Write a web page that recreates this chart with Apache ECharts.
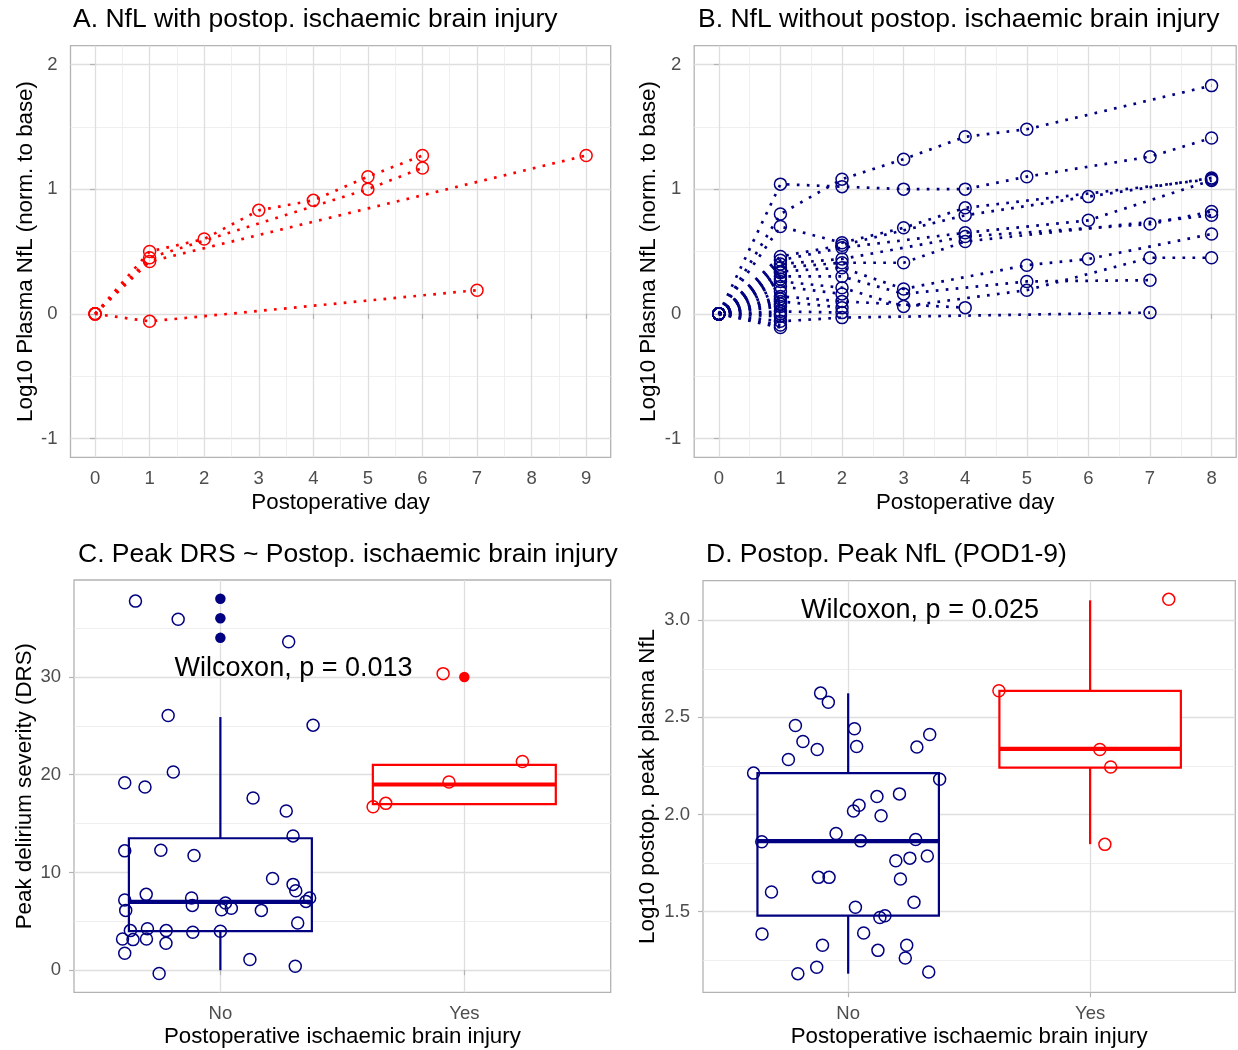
<!DOCTYPE html>
<html>
<head>
<meta charset="utf-8">
<script src="https://cdn.jsdelivr.net/npm/echarts@6/dist/echarts.min.js"></script>
<style>html,body{margin:0;padding:0;background:#fff;}#c{width:1238px;height:1050px;}</style>
</head>
<body>
<div id="c"></div>
<script>
// ---------- DATA ----------
const dayTicksA = [0,1,2,3,4,5,6,7,8,9];
const dayMinorA = [0.5,1.5,2.5,3.5,4.5,5.5,6.5,7.5,8.5];
const dayTicksB = [0,1,2,3,4,5,6,7,8];
const dayMinorB = [0.5,1.5,2.5,3.5,4.5,5.5,6.5,7.5];
const nflTicks = [-1,0,1,2];
const nflMinor = [-0.5,0.5,1.5];
const drsTicks = [0,10,20,30];
const drsMinor = [5,15,25,35];
const peakTicks = [1.5,2.0,2.5,3.0];
const peakMinor = [1.25,1.75,2.25,2.75];
const groupTicks = [1,2];
const groupLabels = ['No','Yes'];

// Panel A: trajectories with ischaemic brain injury [day, log10 NfL]
const trajA = [
  [[0,0],[1,0.50],[2,0.60],[3,0.83],[4,0.91],[5,1.10],[6,1.27]],
  [[0,0],[1,0.45],[5,1.00],[6,1.17]],
  [[0,0],[1,0.42],[9,1.27]],
  [[0,0],[1,-0.06],[7,0.19]]
];

// Panel B: trajectories without ischaemic brain injury
const trajB = [
  [[0,0],[1,1.04],[2,1.02],[3,1.00],[4,1.00],[5,1.10],[7,1.26],[8,1.41]],
  [[0,0],[1,0.80],[2,1.08],[3,1.24],[4,1.42],[5,1.48],[8,1.83]],
  [[0,0],[1,0.70],[2,0.57],[3,0.69],[4,0.85],[8,1.08]],
  [[0,0],[1,0.46],[2,0.55],[4,0.79],[6,0.94],[8,1.09]],
  [[0,0],[1,0.43],[2,0.53],[4,0.65],[6,0.75],[8,1.07]],
  [[0,0],[1,0.40],[2,0.44],[4,0.62],[7,0.72],[8,0.82]],
  [[0,0],[1,0.37],[2,0.41],[3,0.41],[4,0.58],[8,0.79]],
  [[0,0],[1,0.34],[2,0.37],[3,0.20],[5,0.39],[6,0.44],[8,0.64]],
  [[0,0],[1,0.30],[2,0.30],[3,0.16],[5,0.26],[7,0.27]],
  [[0,0],[1,0.26],[2,0.21],[3,0.06],[5,0.19],[7,0.45],[8,0.45]],
  [[0,0],[1,0.14],[2,0.10],[4,0.05]],
  [[0,0],[1,-0.06],[2,-0.03],[7,0.01]],
  [[0,0],[1,0.22],[2,0.16]],
  [[0,0],[1,0.10],[2,0.05]],
  [[0,0],[1,0.02],[2,0.01]],
  [[0,0],[1,0.18]],
  [[0,0],[1,0.06]],
  [[0,0],[1,-0.02]],
  [[0,0],[1,-0.09]],
  [[0,0],[1,-0.11]],
  [[0,0],[1,0.33]],
  [[0,0],[1,0.28]],
  [[0,0],[1,0.12]],
  [[0,0],[1,0.08]],
  [[0,0],[1,0.00]]
];

// Panel C: peak DRS, jittered points [x, DRS]
const drsNo = [
  [0.652,37.76],[0.827,35.9],[1.280,33.6],[0.786,26.05],[1.380,25.07],[0.807,20.27],
  [0.608,19.18],[0.691,18.74],[1.134,17.62],[1.270,16.29],[1.298,13.74],[0.608,12.21],
  [0.756,12.28],[0.892,11.73],[1.214,9.39],[1.298,8.78],[1.309,8.13],[0.696,7.76],
  [0.608,7.18],[0.882,7.38],[0.885,6.63],[1.366,7.38],[1.351,7.04],[1.021,6.87],
  [1.005,6.19],[1.045,6.33],[1.168,6.12],[0.612,6.12],[1.317,4.83],[0.631,4.05],
  [0.701,4.25],[0.778,4.05],[0.887,3.88],[1.000,3.98],[0.599,3.20],[0.642,3.13],
  [0.697,3.20],[0.777,2.76],[0.608,1.73],[1.121,1.09],[1.307,0.41],[0.749,-0.34]
];
const drsYes = [[1.913,30.34],[1.626,16.73],[1.678,17.07],[1.937,19.25],[2.238,21.36]];
const drsOutNo = [[1,38.0],[1,36.0],[1,34.0]];
const drsOutYes = [[2,30.0]];
// box stats [group, lower whisker, Q1, median, Q3, upper whisker]
const drsBoxNo = [1, 0, 4.0, 7.0, 13.5, 25.9];
const drsBoxYes = [2, 17.0, 17.0, 19.0, 21.0, 21.0];

// Panel D: log10 postop peak NfL, jittered points
const peakNo = [
  [0.886,2.625],[0.918,2.578],[0.782,2.458],[1.026,2.441],[0.813,2.376],[0.872,2.335],
  [0.753,2.283],[1.035,2.350],[1.284,2.347],[1.337,2.412],[0.609,2.213],[1.378,2.181],
  [1.119,2.092],[1.212,2.106],[1.045,2.047],[1.022,2.018],[1.136,1.993],[0.950,1.902],
  [0.643,1.859],[1.051,1.864],[1.279,1.871],[1.197,1.762],[1.255,1.775],[1.327,1.786],
  [0.877,1.676],[0.921,1.676],[1.216,1.668],[0.683,1.601],[1.272,1.548],[1.030,1.522],
  [1.131,1.469],[1.152,1.478],[0.644,1.384],[1.064,1.389],[0.894,1.326],[1.242,1.326],
  [1.123,1.300],[1.236,1.261],[0.870,1.213],[0.792,1.180],[1.333,1.189]
];
const peakYes = [[1.623,2.637],[2.040,2.335],[2.085,2.244],[2.061,1.846],[2.325,3.108]];
const peakBoxNo = [1, 1.180, 1.479, 1.863, 2.213, 2.624];
const peakBoxYes = [2, 1.847, 2.241, 2.338, 2.637, 3.103];

const titles = [
  'A. NfL with postop. ischaemic brain injury',
  'B. NfL without postop. ischaemic brain injury',
  'C. Peak DRS ~ Postop. ischaemic brain injury',
  'D. Postop. Peak NfL (POD1-9)'
];
const annotC = {pos:[1.30, 30.9], text:'Wilcoxon, p = 0.013'};
const annotD = {pos:[1.297, 3.048], text:'Wilcoxon, p = 0.025'};

// ---------- STYLE ----------
const FONT = 'Liberation Sans, Arial, Helvetica, sans-serif';
const RED = '#ff0000', NAVY = '#000080';
const MAJOR = '#dedede', MINOR = '#ebebeb', BORDER = '#b3b3b3';
const TICK_FS = 18.5, NAME_FS = 22.3, TITLE_FS = 26.5, ANNOT_FS = 27;

const grids = [
  {left:70.5, top:45.7, width:540.2, height:411.6},
  {left:694.2, top:45.7, width:542, height:411.6},
  {left:74, top:580, width:536.7, height:412.3},
  {left:703, top:580.7, width:532.3, height:411.6}
].map(g => Object.assign({show:true, borderColor:BORDER, borderWidth:1.3, backgroundColor:'#fff', containLabel:false}, g));

function mainAxis(dim, gi, min, max, ticks, fmt, name, gap) {
  return {
    type:'value', gridIndex:gi, min:min, max:max,
    position: dim==='x' ? 'bottom' : 'left',
    axisLine:{show:false},
    axisTick:{show:true, length:5, customValues:ticks, lineStyle:{color:BORDER, width:1.2}},
    axisLabel:{show:true, customValues:ticks, formatter:fmt, color:'#4d4d4d', fontSize:TICK_FS, fontFamily:FONT, margin: dim==='x'?12:13},
    splitLine:{show:true, lineStyle:{color:MAJOR, width:1.3}},
    name:name, nameLocation:'middle', nameGap:gap,
    nameTextStyle:{fontSize:NAME_FS, color:'#000', fontFamily:FONT},
    nameRotate: dim==='y' ? 90 : 0
  };
}
function minorAxis(dim, gi, min, max, ticks) {
  return {
    type:'value', gridIndex:gi, min:min, max:max,
    position: dim==='x' ? 'top' : 'right',
    axisLine:{show:false},
    axisTick:{show:false, customValues:ticks},
    axisLabel:{show:false, customValues:ticks},
    splitLine:{show:true, lineStyle:{color:MINOR, width:0.8}}
  };
}
const fmtNum = v => String(v);
const fmtGroup = v => groupLabels[groupTicks.indexOf(v)] || '';
const fmt1 = v => v.toFixed(1);

const xAxes = [
  mainAxis('x',0,-0.45,9.45,dayTicksA,fmtNum,'Postoperative day',35),
  mainAxis('x',1,-0.4,8.4,dayTicksB,fmtNum,'Postoperative day',35),
  mainAxis('x',2,0.4,2.6,groupTicks,fmtGroup,'Postoperative ischaemic brain injury',34),
  mainAxis('x',3,0.4,2.6,groupTicks,fmtGroup,'Postoperative ischaemic brain injury',34),
  minorAxis('x',0,-0.45,9.45,dayMinorA),
  minorAxis('x',1,-0.4,8.4,dayMinorB)
];
const yAxes = [
  mainAxis('y',0,-1.15,2.15,nflTicks,fmtNum,'Log10 Plasma NfL (norm. to base)',34),
  mainAxis('y',1,-1.15,2.15,nflTicks,fmtNum,'Log10 Plasma NfL (norm. to base)',34),
  mainAxis('y',2,-2.26,39.92,drsTicks,fmtNum,'Peak delirium severity (DRS)',38),
  mainAxis('y',3,1.084,3.204,peakTicks,fmt1,'Log10 postop. peak plasma NfL',44),
  minorAxis('y',0,-1.15,2.15,nflMinor),
  minorAxis('y',1,-1.15,2.15,nflMinor),
  minorAxis('y',2,-2.26,39.92,drsMinor),
  minorAxis('y',3,1.084,3.204,peakMinor)
];

const series = [];
function addTraj(list, axisIdx, color) {
  list.forEach(t => series.push({
    type:'line', xAxisIndex:axisIdx, yAxisIndex:axisIdx, data:t,
    symbol:'circle', symbolSize:12, showSymbol:true, showAllSymbol:true,
    lineStyle:{color:color, width:2.7, type:[2.7,7.3], opacity:1},
    itemStyle:{color:'rgba(0,0,0,0)', borderColor:color, borderWidth:1.5, opacity:1},
    emphasis:{disabled:true}, silent:true, z:3
  }));
}
addTraj(trajA, 0, RED);
addTraj(trajB, 1, NAVY);

function boxRender(color) {
  return function(params, api) {
    const x = api.value(0), lo = api.value(1), q1 = api.value(2), med = api.value(3), q3 = api.value(4), hi = api.value(5);
    const pLo = api.coord([x, lo]), pQ1 = api.coord([x, q1]), pMed = api.coord([x, med]);
    const pQ3 = api.coord([x, q3]), pHi = api.coord([x, hi]);
    const l = api.coord([x - 0.375, q1])[0], r = api.coord([x + 0.375, q1])[0];
    return {type:'group', children:[
      {type:'line', shape:{x1:pHi[0], y1:pHi[1], x2:pQ3[0], y2:pQ3[1]}, style:{stroke:color, lineWidth:2.2}},
      {type:'line', shape:{x1:pQ1[0], y1:pQ1[1], x2:pLo[0], y2:pLo[1]}, style:{stroke:color, lineWidth:2.2}},
      {type:'rect', shape:{x:l, y:pQ3[1], width:r-l, height:pQ1[1]-pQ3[1]}, style:{fill:'#fff', stroke:color, lineWidth:2.2}},
      {type:'line', shape:{x1:l, y1:pMed[1], x2:r, y2:pMed[1]}, style:{stroke:color, lineWidth:4.2}}
    ]};
  };
}
function addBox(stats, axisIdx, color) {
  series.push({type:'custom', xAxisIndex:axisIdx, yAxisIndex:axisIdx, data:[stats],
    encode:{x:0, y:[1,2,3,4,5]}, renderItem:boxRender(color), silent:true, z:2});
}
function addPts(pts, axisIdx, color, filled, size) {
  series.push({type:'scatter', xAxisIndex:axisIdx, yAxisIndex:axisIdx, data:pts,
    symbol:'circle', symbolSize:size,
    itemStyle: filled ? {color:color, opacity:1} : {color:'rgba(0,0,0,0)', borderColor:color, borderWidth:1.5, opacity:1},
    emphasis:{disabled:true}, silent:true, z:4});
}
function addText(a, axisIdx) {
  series.push({type:'scatter', xAxisIndex:axisIdx, yAxisIndex:axisIdx, data:[a.pos],
    symbol:'circle', symbolSize:1, itemStyle:{color:'rgba(0,0,0,0)', opacity:1},
    label:{show:true, position:'inside', formatter:a.text, fontSize:ANNOT_FS, color:'#000', opacity:1, fontFamily:FONT},
    silent:true, z:5});
}
addBox(drsBoxNo, 2, NAVY); addBox(drsBoxYes, 2, RED);
addPts(drsNo, 2, NAVY, false, 12); addPts(drsYes, 2, RED, false, 12);
addPts(drsOutNo, 2, NAVY, true, 10.5); addPts(drsOutYes, 2, RED, true, 10.5);
addText(annotC, 2);
addBox(peakBoxNo, 3, NAVY); addBox(peakBoxYes, 3, RED);
addPts(peakNo, 3, NAVY, false, 12); addPts(peakYes, 3, RED, false, 12);
addText(annotD, 3);

const titlePos = [[68,1],[693,1],[73,536],[701,536]];
const option = {
  animation:false,
  backgroundColor:'#fff',
  textStyle:{fontFamily:FONT},
  title: titles.map((t,i) => ({text:t, left:titlePos[i][0], top:titlePos[i][1],
    textStyle:{fontSize:TITLE_FS, fontWeight:'normal', color:'#000', fontFamily:FONT}})),
  grid: grids,
  xAxis: xAxes,
  yAxis: yAxes,
  series: series
};
const chart = echarts.init(document.getElementById('c'));
chart.setOption(option);
</script>
</body>
</html>
